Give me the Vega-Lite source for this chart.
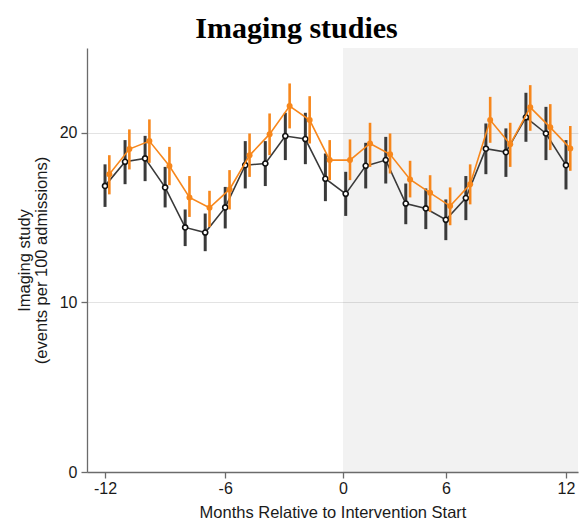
{
  "$schema": "https://vega.github.io/schema/vega-lite/v6.json",
  "width": 491,
  "height": 424,
  "autosize": {"type": "none"},
  "padding": {"left": 87, "top": 48, "right": 9, "bottom": 57},
  "background": "white",
  "title": {
    "text": "Imaging studies",
    "font": "Liberation Serif",
    "fontSize": 30,
    "fontWeight": "bold",
    "color": "#000000",
    "anchor": "middle",
    "frame": "group",
    "dx": -36,
    "offset": 4
  },
  "config": {
    "view": {"stroke": null},
    "axis": {
      "domainColor": "#6b6b6b",
      "domainWidth": 1.3,
      "tickColor": "#6b6b6b",
      "tickWidth": 1.3,
      "tickSize": 6,
      "labelFont": "Liberation Sans",
      "labelFontSize": 16,
      "labelColor": "#1a1a1a",
      "titleFont": "Liberation Sans",
      "titleFontSize": 16.5,
      "titleFontWeight": "normal",
      "titleColor": "#1a1a1a"
    }
  },
  "datasets": {
    "rates": [
      {"month": -12, "series": "A", "rate": 16.87, "lo": 15.63, "hi": 18.14},
      {"month": -11, "series": "A", "rate": 18.29, "lo": 16.97, "hi": 19.57},
      {"month": -10, "series": "A", "rate": 18.49, "lo": 17.15, "hi": 19.82},
      {"month": -9, "series": "A", "rate": 16.78, "lo": 15.60, "hi": 17.99},
      {"month": -8, "series": "A", "rate": 14.42, "lo": 13.32, "hi": 15.48},
      {"month": -7, "series": "A", "rate": 14.12, "lo": 13.02, "hi": 15.24},
      {"month": -6, "series": "A", "rate": 15.60, "lo": 14.36, "hi": 16.81},
      {"month": -5, "series": "A", "rate": 18.09, "lo": 16.72, "hi": 19.51},
      {"month": -4, "series": "A", "rate": 18.19, "lo": 16.86, "hi": 19.51},
      {"month": -3, "series": "A", "rate": 19.81, "lo": 18.39, "hi": 21.18},
      {"month": -2, "series": "A", "rate": 19.63, "lo": 18.15, "hi": 21.18},
      {"month": -1, "series": "A", "rate": 17.29, "lo": 15.97, "hi": 18.78},
      {"month": 1, "series": "A", "rate": 16.40, "lo": 15.10, "hi": 17.70},
      {"month": 2, "series": "A", "rate": 18.05, "lo": 16.72, "hi": 19.41},
      {"month": 3, "series": "A", "rate": 18.39, "lo": 17.01, "hi": 19.76},
      {"month": 4, "series": "A", "rate": 15.83, "lo": 14.61, "hi": 17.01},
      {"month": 5, "series": "A", "rate": 15.54, "lo": 14.32, "hi": 16.72},
      {"month": 6, "series": "A", "rate": 14.87, "lo": 13.67, "hi": 16.07},
      {"month": 7, "series": "A", "rate": 16.15, "lo": 14.85, "hi": 17.45},
      {"month": 8, "series": "A", "rate": 19.06, "lo": 17.56, "hi": 20.55},
      {"month": 9, "series": "A", "rate": 18.86, "lo": 17.40, "hi": 20.26},
      {"month": 10, "series": "A", "rate": 20.91, "lo": 19.47, "hi": 22.36},
      {"month": 11, "series": "A", "rate": 19.96, "lo": 18.39, "hi": 21.53},
      {"month": 12, "series": "A", "rate": 18.09, "lo": 16.66, "hi": 19.57},
      {"month": -12, "series": "B", "rate": 17.55, "lo": 16.37, "hi": 18.68},
      {"month": -11, "series": "B", "rate": 19.04, "lo": 17.84, "hi": 20.20},
      {"month": -10, "series": "B", "rate": 19.51, "lo": 18.23, "hi": 20.79},
      {"month": -9, "series": "B", "rate": 18.04, "lo": 16.91, "hi": 19.17},
      {"month": -8, "series": "B", "rate": 16.19, "lo": 15.04, "hi": 17.45},
      {"month": -7, "series": "B", "rate": 15.58, "lo": 14.45, "hi": 16.58},
      {"month": -6, "series": "B", "rate": 16.66, "lo": 15.48, "hi": 17.80},
      {"month": -5, "series": "B", "rate": 18.67, "lo": 17.40, "hi": 19.96},
      {"month": -4, "series": "B", "rate": 19.92, "lo": 18.68, "hi": 21.14},
      {"month": -3, "series": "B", "rate": 21.58, "lo": 20.26, "hi": 22.91},
      {"month": -2, "series": "B", "rate": 20.75, "lo": 19.37, "hi": 22.16},
      {"month": -1, "series": "B", "rate": 18.39, "lo": 17.21, "hi": 19.57},
      {"month": 1, "series": "B", "rate": 18.39, "lo": 17.21, "hi": 19.61},
      {"month": 2, "series": "B", "rate": 19.37, "lo": 17.99, "hi": 20.59},
      {"month": 3, "series": "B", "rate": 18.73, "lo": 17.60, "hi": 19.96},
      {"month": 4, "series": "B", "rate": 17.25, "lo": 16.19, "hi": 18.35},
      {"month": 5, "series": "B", "rate": 16.46, "lo": 15.34, "hi": 17.50},
      {"month": 6, "series": "B", "rate": 15.68, "lo": 14.55, "hi": 16.78},
      {"month": 7, "series": "B", "rate": 16.96, "lo": 15.78, "hi": 18.14},
      {"month": 8, "series": "B", "rate": 20.75, "lo": 19.41, "hi": 22.12},
      {"month": 9, "series": "B", "rate": 19.32, "lo": 17.99, "hi": 20.59},
      {"month": 10, "series": "B", "rate": 21.50, "lo": 20.12, "hi": 22.81},
      {"month": 11, "series": "B", "rate": 20.32, "lo": 18.98, "hi": 21.69},
      {"month": 12, "series": "B", "rate": 19.08, "lo": 17.76, "hi": 20.40}
    ]
  },
  "layer": [
    {
      "description": "Shaded intervention period, translucent so the grid shows through",
      "data": {"values": [{"start": 0, "end": 12.6}]},
      "mark": {"type": "rect", "color": "#000000", "opacity": 0.05},
      "encoding": {
        "x": {
          "field": "start",
          "type": "quantitative",
          "scale": {
            "domain": [-12.9, -1, 0, 1, 12.6],
            "range": [0, 238.4, 256, 258.7, 491],
            "nice": false,
            "zero": false
          },
          "axis": {
            "values": [-12, -6, 0, 6, 12],
            "labelExpr": "'' + datum.value",
            "grid": false,
            "title": "Months Relative to Intervention Start",
            "labelPadding": 2,
            "titlePadding": 8
          }
        },
        "x2": {"field": "end"}
      }
    },
    {
      "data": {"name": "rates"},
      "transform": [{"filter": "datum.series === 'A'"}],
      "layer": [
        {
          "mark": {"type": "line", "color": "#3a3a3a", "strokeWidth": 1.6},
          "encoding": {
            "x": {"field": "month", "type": "quantitative"},
            "y": {
              "field": "rate",
              "type": "quantitative",
              "scale": {"domain": [0, 25], "nice": false, "zero": true},
              "axis": {
                "values": [0, 10, 20],
                "grid": true,
                "gridColor": "#e3e3e3",
                "gridWidth": 1,
                "title": ["Imaging study", "(events per 100 admissions)"],
                "titleLineHeight": 17,
                "labelPadding": 4,
                "titlePadding": 10
              }
            }
          }
        },
        {
          "mark": {"type": "rule", "color": "#3a3a3a", "strokeWidth": 3},
          "encoding": {
            "x": {"field": "month", "type": "quantitative"},
            "y": {"field": "lo", "type": "quantitative"},
            "y2": {"field": "hi"}
          }
        },
        {
          "mark": {"type": "point", "shape": "circle", "filled": true, "fill": "white", "stroke": "#111111", "strokeWidth": 1.6, "size": 26, "opacity": 1},
          "encoding": {
            "x": {"field": "month", "type": "quantitative"},
            "y": {"field": "rate", "type": "quantitative"}
          }
        }
      ]
    },
    {
      "data": {"name": "rates"},
      "transform": [{"filter": "datum.series === 'B'"}],
      "layer": [
        {
          "mark": {"type": "line", "color": "#f7871c", "strokeWidth": 1.6, "xOffset": 4.3},
          "encoding": {
            "x": {"field": "month", "type": "quantitative"},
            "y": {"field": "rate", "type": "quantitative"}
          }
        },
        {
          "mark": {"type": "rule", "color": "#f7871c", "strokeWidth": 2.6, "xOffset": 4.3},
          "encoding": {
            "x": {"field": "month", "type": "quantitative"},
            "y": {"field": "lo", "type": "quantitative"},
            "y2": {"field": "hi"}
          }
        },
        {
          "mark": {"type": "circle", "color": "#f7871c", "size": 36, "opacity": 1, "xOffset": 4.3},
          "encoding": {
            "x": {"field": "month", "type": "quantitative"},
            "y": {"field": "rate", "type": "quantitative"}
          }
        }
      ]
    }
  ]
}
